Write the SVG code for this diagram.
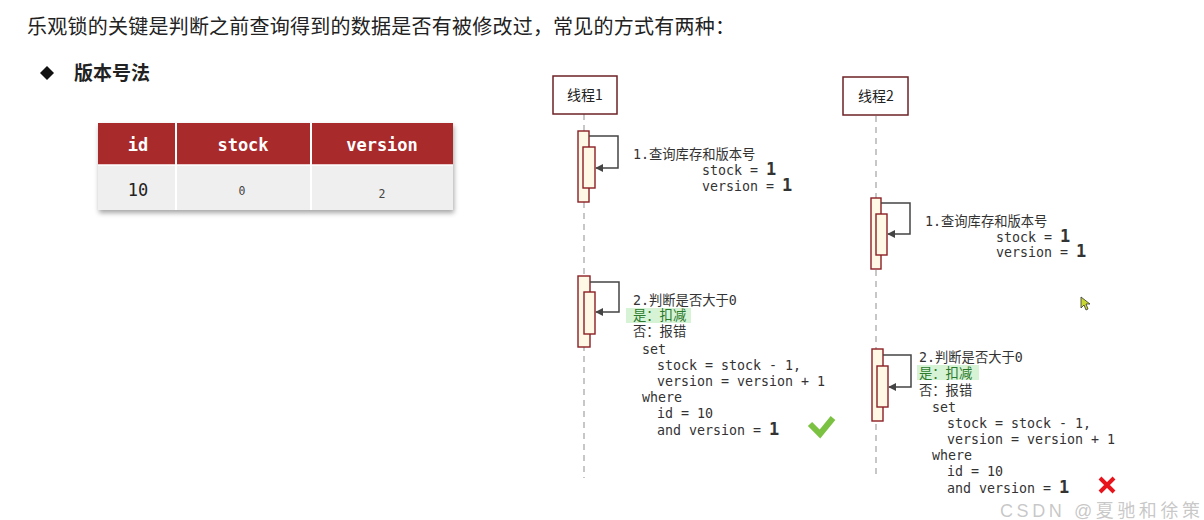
<svg xmlns="http://www.w3.org/2000/svg" width="1204" height="520" viewBox="0 0 1204 520">
<defs>
<style>
.cjk{font-family:"Noto Sans CJK SC","Noto Sans",sans-serif;fill:#222}
.mono{font-family:"DejaVu Sans Mono","Noto Sans CJK SC",monospace;font-size:13.3px;fill:#333}
.big{font-size:17px;font-weight:bold;fill:#333}
.head{font-family:"DejaVu Sans Mono",monospace;font-size:17px;font-weight:bold;fill:#fff;text-anchor:middle}
.box{fill:#fff;stroke:#6e2226;stroke-width:1.5}
.act{fill:#fff8e4;stroke:#8b1f24;stroke-width:1.4}
.life{stroke:#aaa;stroke-width:1.3;stroke-dasharray:6 5;fill:none}
.self{fill:none;stroke:#444;stroke-width:1.5}
.hl{fill:#d6f3d6}
</style>
<marker id="ah" viewBox="0 0 10 10" refX="9" refY="5" markerWidth="8" markerHeight="8" markerUnits="userSpaceOnUse" orient="auto">
<path d="M0,0 L10,5 L0,10 z" fill="#444"/>
</marker>
<filter id="sh" x="-5%" y="-10%" width="112%" height="130%">
<feDropShadow dx="1" dy="3" stdDeviation="2.5" flood-color="#000" flood-opacity="0.35"/>
</filter>
</defs>
<rect width="1204" height="520" fill="#fff"/>

<text x="27" y="34" class="cjk" font-size="20" textLength="708" lengthAdjust="spacing">乐观锁的关键是判断之前查询得到的数据是否有被修改过，常见的方式有两种：</text>
<path d="M47,66 L54,73 L47,80 L40,73 z" fill="#111"/>
<text x="74" y="80" class="cjk" font-size="19" font-weight="bold">版本号法</text>

<g id="table">
<g filter="url(#sh)">
<rect x="98" y="123" width="355" height="87" fill="#efefef"/>
</g>
<rect x="98" y="123" width="355" height="42" fill="#a82a2b"/>
<line x1="176" y1="123" x2="176" y2="210" stroke="#fff" stroke-width="2"/>
<line x1="311" y1="123" x2="311" y2="210" stroke="#fff" stroke-width="2"/>
<line x1="98" y1="165" x2="453" y2="165" stroke="#fff" stroke-width="1.5"/>
<text x="138" y="151" class="head">id</text>
<text x="243" y="151" class="head">stock</text>
<text x="382" y="151" class="head">version</text>
<text x="138" y="196" font-family="DejaVu Sans Mono,monospace" font-size="17" fill="#222" text-anchor="middle">10</text>
<text x="242" y="195" font-family="DejaVu Sans Mono,monospace" font-size="11.5" fill="#444" text-anchor="middle">0</text>
<text x="382" y="198" font-family="DejaVu Sans Mono,monospace" font-size="11.5" fill="#444" text-anchor="middle">2</text>
</g>

<g id="connectors">
<line x1="584" y1="114" x2="584" y2="478" class="life"/>
<line x1="876" y1="116" x2="876" y2="478" class="life"/>
</g>

<g id="thread1">
<rect x="553" y="76" width="64" height="38" class="box"/>
<text x="585" y="100" class="cjk" font-size="14" text-anchor="middle">线程1</text>
</g>
<g id="thread2">
<rect x="843" y="77" width="65" height="38" class="box"/>
<text x="876" y="101" class="cjk" font-size="14" text-anchor="middle">线程2</text>
</g>

<g id="t1-step1">
<rect x="578" y="131" width="11" height="71" class="act"/>
<rect x="583" y="147" width="12" height="41" class="act"/>
<path d="M589,136 H618 V168 H596" class="self" marker-end="url(#ah)"/>
<text x="633" y="159" class="mono">1.查询库存和版本号</text>
<text x="702" y="175" class="mono">stock = <tspan class="big">1</tspan></text>
<text x="702" y="191" class="mono">version = <tspan class="big">1</tspan></text>
</g>

<g id="t2-step1">
<rect x="871" y="198" width="10" height="71" class="act"/>
<rect x="876" y="214" width="11" height="41" class="act"/>
<path d="M881,203 H910 V234 H888" class="self" marker-end="url(#ah)"/>
<text x="925" y="226" class="mono">1.查询库存和版本号</text>
<text x="996" y="242" class="mono">stock = <tspan class="big">1</tspan></text>
<text x="996" y="257" class="mono">version = <tspan class="big" x="1076">1</tspan></text>
</g>

<g id="t1-step2">
<rect x="578" y="276" width="12" height="71" class="act"/>
<rect x="584" y="292" width="11" height="42" class="act"/>
<path d="M590,282 H619 V312 H596" class="self" marker-end="url(#ah)"/>
<rect x="626" y="308" width="65" height="15" class="hl"/>
<text x="633" y="305" class="mono">2.判断是否大于0</text>
<text x="633" y="320" class="mono" style="fill:#2c7a2c">是：扣减</text>
<text x="633" y="336" class="mono">否：报错</text>
<text x="642" y="354" class="mono">set</text>
<text x="657" y="370" class="mono">stock = stock - 1,</text>
<text x="657" y="386" class="mono">version = version + 1</text>
<text x="642" y="402" class="mono">where</text>
<text x="657" y="418" class="mono">id = 10</text>
<text x="657" y="435" class="mono">and version = <tspan class="big">1</tspan></text>
<path d="M810,424 L820,434 L833,418" fill="none" stroke="#7cc242" stroke-width="6"/>
</g>

<g id="t2-step2">
<rect x="872" y="349" width="11" height="72" class="act"/>
<rect x="877" y="366" width="11" height="41" class="act"/>
<path d="M883,355 H911 V387 H889" class="self" marker-end="url(#ah)"/>
<rect x="917" y="365" width="62" height="15" class="hl"/>
<text x="919" y="362" class="mono">2.判断是否大于0</text>
<text x="919" y="378" class="mono" style="fill:#2c7a2c">是：扣减</text>
<text x="919" y="395" class="mono">否：报错</text>
<text x="932" y="412" class="mono">set</text>
<text x="947" y="428" class="mono">stock = stock - 1,</text>
<text x="947" y="444" class="mono">version = version + 1</text>
<text x="932" y="460" class="mono">where</text>
<text x="947" y="476" class="mono">id = 10</text>
<text x="947" y="493" class="mono">and version = <tspan class="big">1</tspan></text>
<path d="M1100,478 L1114,492 M1114,478 L1100,492" stroke="#e8141c" stroke-width="4"/>
</g>

<path d="M1081,297 L1081,308 L1084,305 L1086,310 L1088,309 L1086,304 L1090,304 z" fill="#c8d830" stroke="#333" stroke-width="0.8"/>

<text x="1000" y="517" font-family="Liberation Sans,Noto Sans CJK SC,sans-serif" font-size="18" fill="#999" fill-opacity="0.55" textLength="200" lengthAdjust="spacing">CSDN @夏驰和徐策</text>
</svg>
